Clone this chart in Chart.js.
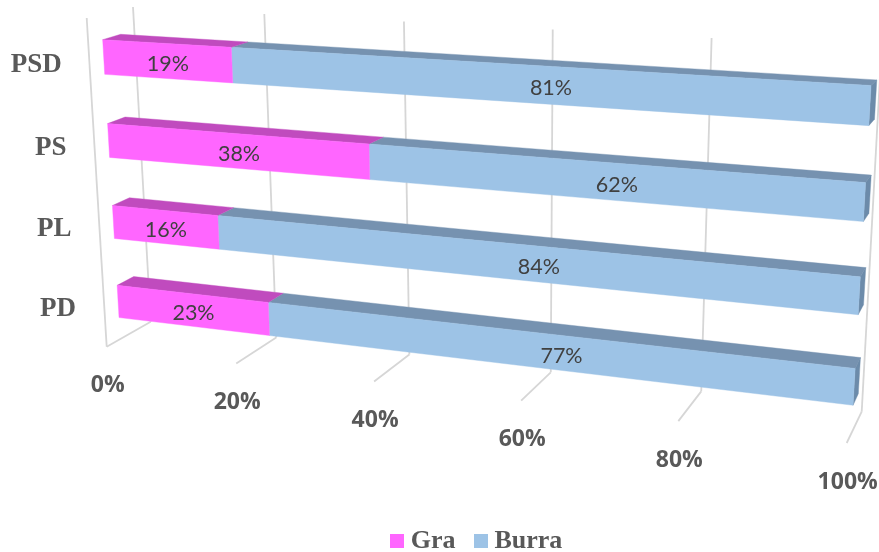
<!DOCTYPE html>
<html><head><meta charset="utf-8">
<script src="https://cdn.jsdelivr.net/npm/chart.js@4/dist/chart.umd.js"></script>
<style>html,body{margin:0;padding:0;background:#fff}#w{width:879px;height:552px}</style>
</head><body><div id="w"><canvas id="c"></canvas></div>
<script>
const categories = ["PSD","PS","PL","PD"];
const graValues = [19,38,16,23];
const burraValues = [81,62,84,77];
const seriesNames = ["Gra","Burra"];
const frontColors = ["#FF66FF","#9DC3E6"];
const topColors = ["#C04BBE","#7692B0"];
const sideColor = "#6C8BAA";

// Camera: each plane is the plot rectangle seen in perspective (TL, TR, BR, BL)
function homography(q){
  const [p0,p1,p2,p3]=q;
  const sx=p0[0]-p1[0]+p2[0]-p3[0], sy=p0[1]-p1[1]+p2[1]-p3[1];
  const dx1=p1[0]-p2[0], dx2=p3[0]-p2[0], dy1=p1[1]-p2[1], dy2=p3[1]-p2[1];
  const den=dx1*dy2-dx2*dy1;
  const g=(sx*dy2-dx2*sy)/den, h=(dx1*sy-sx*dy1)/den;
  const a=p1[0]-p0[0]+g*p1[0], b=p3[0]-p0[0]+h*p3[0], c=p0[0];
  const d=p1[1]-p0[1]+g*p1[1], e=p3[1]-p0[1]+h*p3[1], f=p0[1];
  return (u,v)=>{const w=g*u+h*v+1;return [(a*u+b*v+c)/w,(d*u+e*v+f)/w];};
}
const barFront = homography([[101.2,14.5],[872.7,56.3],[851.6,431.5],[120.4,340.5]]);
const barBack  = homography([[119.3,9.5],[878.5,51.3],[856.8,419.5],[136.6,331]]);
const wall     = homography([[133,7],[881.6,47],[861.7,411.7],[150.7,321.7]]);
const room     = homography([[86.7,18],[867.7,58],[846.7,443],[106.7,346.7]]);

function poly(ctx,pts,fill){
  ctx.beginPath();pts.forEach((p,i)=>i?ctx.lineTo(p[0],p[1]):ctx.moveTo(p[0],p[1]));ctx.closePath();
  ctx.fillStyle=fill;ctx.fill();ctx.strokeStyle=fill;ctx.lineWidth=0.4;ctx.stroke();
}
function barBox(chart,el){
  const a=chart.chartArea;
  const U=x=>(x-a.left)/a.width, V=y=>(y-a.top)/a.height;
  return {u0:U(Math.min(el.x,el.base)),u1:U(Math.max(el.x,el.base)),
          v0:V(el.y-el.height/2),v1:V(el.y+el.height/2)};
}
const perspective = {
  id:'perspective',
  beforeDatasetsDraw(chart){
    const ctx=chart.ctx,a=chart.chartArea,xs=chart.scales.x,ys=chart.scales.y;
    const line=(p,q)=>{ctx.beginPath();ctx.moveTo(p[0],p[1]);ctx.lineTo(q[0],q[1]);ctx.stroke();};
    ctx.save();ctx.strokeStyle="#D6D6D6";ctx.lineWidth=1.8;
    xs.ticks.forEach(t=>{
      const u=(xs.getPixelForValue(t.value)-a.left)/a.width;
      line(wall(u,0),wall(u,1));
      line(wall(u,1),room(u,1));
      if(t.value===0) line(room(u,0),room(u,1));
    });
    ctx.textAlign="center";ctx.textBaseline="middle";
    ctx.fillStyle="#595959";ctx.font="bold 23px 'Open Sans'";
    xs.ticks.forEach(t=>{
      const u=(xs.getPixelForValue(t.value)-a.left)/a.width;
      const p=room(u,1);
      ctx.fillText(t.label,p[0]+1,p[1]+39);
    });
    ctx.textAlign="right";ctx.font="bold 27px 'Liberation Serif'";
    ys.getLabels().forEach((lab,i)=>{
      const v=(ys.getPixelForValue(i)-a.top)/a.height;
      const p=barFront(0,v);
      ctx.fillText(lab,p[0]-42,p[1]+7.5);
    });
    ctx.restore();
  },
  beforeDatasetDraw(chart,args){
    const ctx=chart.ctx,i=args.index,meta=args.meta;
    ctx.save();
    meta.data.forEach(el=>{
      const b=barBox(chart,el);
      poly(ctx,[barFront(b.u0,b.v0),barFront(b.u1,b.v0),barBack(b.u1,b.v0),barBack(b.u0,b.v0)],topColors[i]);
      if(i===chart.data.datasets.length-1)
        poly(ctx,[barFront(b.u1,b.v0),barBack(b.u1,b.v0),barBack(b.u1,b.v1),barFront(b.u1,b.v1)],sideColor);
      poly(ctx,[barFront(b.u0,b.v0),barFront(b.u1,b.v0),barFront(b.u1,b.v1),barFront(b.u0,b.v1)],frontColors[i]);
    });
    ctx.restore();
    return false;
  },
  afterDatasetsDraw(chart){
    const ctx=chart.ctx;
    ctx.save();ctx.fillStyle="#404040";ctx.font="21.5px Lato";ctx.textAlign="center";ctx.textBaseline="middle";
    chart.data.datasets.forEach((ds,i)=>{
      chart.getDatasetMeta(i).data.forEach((el,j)=>{
        const b=barBox(chart,el);
        const c=[barFront(b.u0,b.v0),barFront(b.u1,b.v0),barFront(b.u1,b.v1),barFront(b.u0,b.v1)];
        const x=c.reduce((s,p)=>s+p[0],0)/4,y=c.reduce((s,p)=>s+p[1],0)/4;
        ctx.fillText(ds.data[j]+"%",x,y+3);
      });
    });
    ctx.restore();
  }
};
function swatch(color){
  const s=document.createElement('canvas');s.width=14;s.height=14;
  const g=s.getContext('2d');g.fillStyle=color;g.fillRect(0,0,14,14);return s;
}
new Chart(document.getElementById('c'),{
  type:'bar',
  data:{labels:categories,datasets:[
    {label:seriesNames[0],data:graValues,backgroundColor:frontColors[0],barPercentage:0.41,categoryPercentage:1},
    {label:seriesNames[1],data:burraValues,backgroundColor:frontColors[1],barPercentage:0.41,categoryPercentage:1}
  ]},
  options:{
    indexAxis:'y',responsive:true,maintainAspectRatio:false,animation:false,
    layout:{padding:{left:80,right:0,top:0,bottom:-12}},
    scales:{
      x:{stacked:true,min:0,max:100,grid:{display:false},border:{display:false},
         ticks:{display:false,stepSize:20,callback:v=>v+"%"}},
      y:{stacked:true,grid:{display:false},border:{display:false},ticks:{display:false}}
    },
    plugins:{
      tooltip:{enabled:false},
      legend:{position:'bottom',labels:{
        color:"#595959",font:{family:"'Liberation Serif'",size:26,weight:'bold'},
        usePointStyle:true,boxWidth:1,boxHeight:14,padding:25,
        generateLabels(chart){
          return Chart.defaults.plugins.legend.labels.generateLabels(chart).map((l,i)=>
            Object.assign(l,{pointStyle:swatch(frontColors[i])}));
        }
      }}
    }
  },
  plugins:[perspective]
});
</script></body></html>
